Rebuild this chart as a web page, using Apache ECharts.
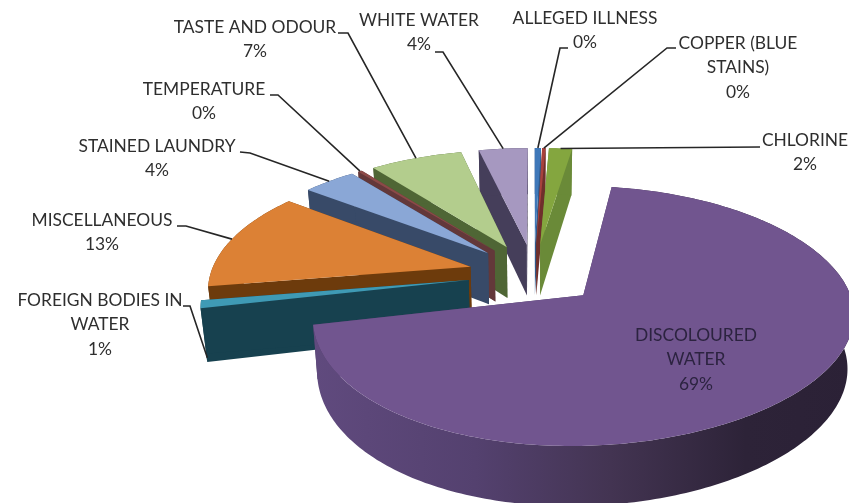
<!DOCTYPE html>
<html>
<head>
<meta charset="utf-8">
<style>html,body{margin:0;padding:0;background:#fff}#chart{width:849px;height:503px}</style>
<script src="https://cdn.jsdelivr.net/npm/echarts@6/dist/echarts.min.js"></script>
</head>
<body>
<div id="chart"></div>
<script>
// Complaint categories, clockwise from twelve o'clock, and their share in percent.
const categories = ['ALLEGED ILLNESS', 'COPPER (BLUE STAINS)', 'CHLORINE', 'DISCOLOURED WATER', 'FOREIGN BODIES IN WATER', 'MISCELLANEOUS', 'STAINED LAUNDRY', 'TEMPERATURE', 'TASTE AND ODOUR', 'WHITE WATER'];
const shares = [0.45, 0.25, 1.7, 69.0, 1.0, 13.0, 3.9, 0.3, 6.8, 3.6];

// Face and wall colours per category.
const topColors = ['#3f78b9', '#a8413c', '#84a63f', '#71558f', '#3f9ab5', '#dc8135', '#8aa7d6', '#8c4a48', '#b3cd8d', '#a698c0'];
const wallColors = ['#2f5a8c', '#6f2f2c', '#6a8a38', '#4a3a63', '#17414f', '#6d3b0c', '#384a68', '#63383a', '#4f6635', '#453e5a'];

// Wrapped label text and placement, with the elbow of each leader line.
const labelLines = [
  ['ALLEGED ILLNESS', '0%'], ['COPPER (BLUE', 'STAINS)', '0%'], ['CHLORINE', '2%'], ['DISCOLOURED', 'WATER', '69%'],
  ['FOREIGN BODIES IN', 'WATER', '1%'], ['MISCELLANEOUS', '13%'], ['STAINED LAUNDRY', '4%'], ['TEMPERATURE', '0%'],
  ['TASTE AND ODOUR', '7%'], ['WHITE WATER', '4%']
];
const labelCenters = [[585, 18], [738, 43], [805, 140], [696, 335], [100, 300], [102, 220], [157, 146], [204, 89], [255, 27], [419, 20]];
const leaderElbows = [
  [[568, 48], [560, 48]], [[676, 48], [667, 48]], [[760, 147]], null, [[183, 306], [190, 306]],
  [[177, 226], [186, 226]], [[240, 152], [250, 153]], [[270, 95], [278, 95]], [[338, 33], [348, 33]], [[435, 52], [443, 52]]
];

// Projection of the tilted pie.
const CX = 534, CY = 274, RX = 260, RY = 120;
const PERSPECTIVE = 0.155, EXPLODE = 0.254, THICK = 52, BASE_SHRINK = 0.98, FRONT_SKEW = 16;
const LINE_HEIGHT = 24.7;

const total = shares.reduce((a, b) => a + b, 0);
let running = 0;
const spans = shares.map(v => {
  const from = running / total * 2 * Math.PI;
  running += v;
  return { from, to: running / total * 2 * Math.PI };
});

function project(X, Y, onBase) {
  const s = 1 / (1 - PERSPECTIVE * Y);
  const front = Math.max(Y, 0);
  let x = CX + RX * X * s - FRONT_SKEW * front * front, y = CY + RY * Y * s;
  if (onBase) {
    x = CX + (x - CX) * BASE_SHRINK;
    y = CY + (y - CY) * BASE_SHRINK + THICK * s;
  }
  return [x, y];
}
function apexOf(i) {
  const mid = (spans[i].from + spans[i].to) / 2;
  return [EXPLODE * Math.sin(mid), -EXPLODE * Math.cos(mid)];
}
function rimPoint(i, angle, onBase) {
  const a = apexOf(i);
  return project(a[0] + Math.sin(angle), a[1] - Math.cos(angle), onBase);
}
function rimArc(i, onBase) {
  const { from, to } = spans[i];
  const steps = Math.max(2, Math.ceil((to - from) / (Math.PI / 180)));
  const pts = [];
  for (let k = 0; k <= steps; k++) pts.push(rimPoint(i, from + (to - from) * k / steps, onBase));
  return pts;
}
function poly(points, fill) {
  return { type: 'polygon', shape: { points }, style: { fill, stroke: null }, silent: true };
}
function wallFill(i) {
  if (categories[i] !== 'DISCOLOURED WATER') return wallColors[i];
  return new echarts.graphic.LinearGradient(0, 0, 1, 0, [
    { offset: 0, color: '#604a7e' }, { offset: 0.3, color: '#54416f' },
    { offset: 0.55, color: '#433452' }, { offset: 0.8, color: '#2d2338' }, { offset: 1, color: '#2b2136' }
  ]);
}

// Each slice paints its walls first and its top face last.
function renderSlice(params, api) {
  const i = api.value(0);
  const a = apexOf(i);
  const apexTop = project(a[0], a[1], false), apexBase = project(a[0], a[1], true);
  const top = rimArc(i, false), base = rimArc(i, true);
  const n = top.length - 1;
  return {
    type: 'group',
    children: [
      poly([apexTop, top[0], base[0], apexBase], wallColors[i]),
      poly([apexTop, top[n], base[n], apexBase], wallColors[i]),
      poly(top.concat(base.slice().reverse()), wallFill(i)),
      poly([apexTop].concat(top), topColors[i])
    ]
  };
}

// Slices are painted from the back of the pie to the front.
const paintOrder = shares.map((_, i) => i).sort((p, q) => apexOf(p)[1] - apexOf(q)[1]);

const graphics = [];
labelLines.forEach((lines, i) => {
  lines.forEach((line, k) => {
    graphics.push({
      type: 'text', silent: true, z: 10,
      style: {
        x: labelCenters[i][0], y: labelCenters[i][1] + k * LINE_HEIGHT,
        text: line, align: 'center', verticalAlign: 'middle',
        font: '17.4px Lato', fill: i === 3 ? '#2c2340' : '#2e2e2e'
      }
    });
  });
  if (leaderElbows[i]) {
    const mid = (spans[i].from + spans[i].to) / 2;
    const end = categories[i] === 'FOREIGN BODIES IN WATER' ? rimPoint(i, mid, true) : rimPoint(i, mid, false);
    graphics.push({
      type: 'polyline', silent: true, z: 9,
      shape: { points: leaderElbows[i].concat([end]) },
      style: { stroke: '#262626', lineWidth: 1.6, fill: null }
    });
  }
});

const chart = echarts.init(document.getElementById('chart'), null, { renderer: 'canvas' });
chart.setOption({
  animation: false,
  backgroundColor: '#ffffff',
  series: [{
    type: 'custom',
    coordinateSystem: 'none',
    silent: true,
    renderItem: renderSlice,
    data: paintOrder.map(i => ({ name: categories[i], value: [i, shares[i]] }))
  }],
  graphic: { elements: graphics }
});
</script>
</body>
</html>
